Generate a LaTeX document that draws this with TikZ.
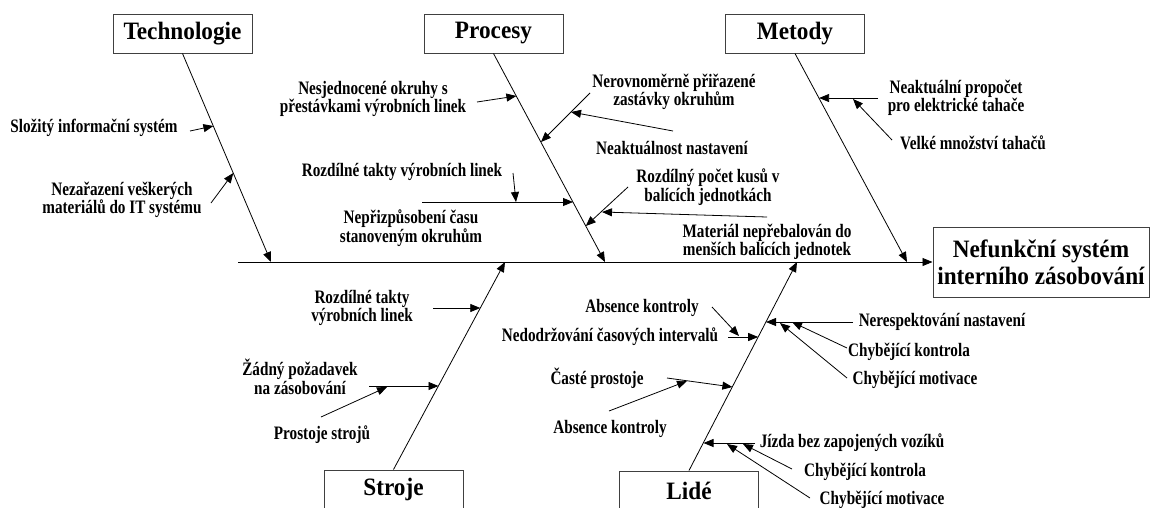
\documentclass[tikz,border=0pt]{standalone}
\usepackage{fontspec}
\setmainfont{Liberation Serif}
\newfontfamily\lblfont[FakeStretch=0.8]{Liberation Serif}
\newfontfamily\boxfont[FakeStretch=0.93]{Liberation Serif}
\usetikzlibrary{arrows.meta,calc}
\tikzset{
  catbox/.style={draw=black!75, line width=1pt, minimum width=139pt, minimum height=39pt, inner sep=0pt, font=\boxfont\bfseries\fontsize{25}{27}\selectfont},
  effbox/.style={draw=black!75, line width=1pt, minimum width=216pt, minimum height=70pt, inner sep=0pt, align=center, font=\boxfont\bfseries\fontsize{25}{27}\selectfont},
  lbl/.style={inner sep=0pt, align=center, font=\lblfont\bfseries\fontsize{19}{18.5}\selectfont},
  bone/.style={line width=0.8pt, -{Triangle[length=10pt,width=8pt]}},
  subarr/.style={line width=0.8pt, -{Triangle[length=10pt,width=8pt]}},
}
\begin{document}
\begin{tikzpicture}[x=1pt,y=-1pt]
\clip (0,0) rectangle (1159,507);
% category boxes
\node[catbox] (tech) at (182.5,33.5) {Technologie};
\node[catbox] (proc) at (493.5,33.5) {Procesy};
\node[catbox] (meto) at (795,33.5) {Metody};
\node[catbox] (stro) at (393.5,489.5) {Stroje};
\node[catbox] (lide) at (689,490.5) {Lidé};
\node[effbox] (eff) at (1041,262) {Nefunkční systém\\interního zásobování};
% spine
\coordinate (s0) at (238,262);
\coordinate (sT) at (271,262);
\coordinate (sS) at (505,262);
\coordinate (sP) at (605,262);
\coordinate (sL) at (797,262);
\coordinate (sM) at (907,262);
\draw[bone] (s0) -- (eff.west);
\draw[bone] (tech.south) -- (sT);
\draw[bone] (proc.south) -- (sP);
\draw[bone] (meto.south) -- (sM);
\draw[bone] (stro.north) -- (sS);
\draw[bone] (lide.north) -- (sL);
% Technologie
\node[lbl] (t1) at (94,128) {Složitý informační systém};
\node[lbl] (t2) at (122,200) {Nezařazení veškerých\\materiálů do IT systému};
\coordinate (t1a) at (190,131); \coordinate (t1b) at (213.4,126);
\coordinate (t2a) at (211,203); \coordinate (t2b) at (233.3,173);
\draw[subarr] (t1a) -- (t1b);
\draw[subarr] (t2a) -- (t2b);
% Procesy
\node[lbl] (p1) at (373,99) {Nesjednocené okruhy s\\přestávkami výrobních linek};
\node[lbl] (p2) at (674,92) {Nerovnoměrně přiřazené\\zastávky okruhům};
\node[lbl] (p3) at (672,148) {Neaktuálnost nastavení};
\node[lbl] (p4) at (402,172) {Rozdílné takty výrobních linek};
\node[lbl] (p5) at (411,228) {Nepřizpůsobení času\\stanoveným okruhům};
\node[lbl] (p6) at (708,187) {Rozdílný počet kusů v\\balících jednotkách};
\node[lbl] (p7) at (767,242) {Materiál nepřebalován do\\menších balících jednotek};
\coordinate (p1a) at (477,102); \coordinate (p1b) at (516.4,96);
\coordinate (p2a) at (590,93); \coordinate (p2b) at (541,142);
\coordinate (p3a) at (673,131); \coordinate (p3b) at (571,112);
\coordinate (p5a) at (422,202); \coordinate (p5b) at (573,202);
\coordinate (p4a) at (513,173); \coordinate (p4b) at (516,202);
\coordinate (p6a) at (628,187); \coordinate (p6b) at (585.8,226);
\coordinate (p7a) at (767,217); \coordinate (p7b) at (602,212);
\draw[subarr] (p1a) -- (p1b);
\draw[subarr] (p2a) -- (p2b);
\draw[subarr] (p3a) -- (p3b);
\draw[subarr] (p5a) -- (p5b);
\draw[subarr] (p4a) -- (p4b);
\draw[subarr] (p6a) -- (p6b);
\draw[subarr] (p7a) -- (p7b);
% Metody
\node[lbl] (m1) at (956,98) {Neaktuální propočet\\pro elektrické tahače};
\node[lbl] (m2) at (973,143) {Velké množství tahačů};
\coordinate (m1a) at (878,98); \coordinate (m1b) at (819.1,98);
\coordinate (m2a) at (892,140); \coordinate (m2b) at (853,99);
\draw[subarr] (m1a) -- (m1b);
\draw[subarr] (m2a) -- (m2b);
% Stroje
\node[lbl] (r1) at (362,308) {Rozdílné takty\\výrobních linek};
\node[lbl] (r2) at (300,377) {Žádný požadavek\\na zásobování};
\node[lbl] (r3) at (322,435) {Prostoje strojů};
\coordinate (r1a) at (433,308); \coordinate (r1b) at (480.3,308);
\coordinate (r2a) at (369,386); \coordinate (r2b) at (438.5,386);
\coordinate (r3a) at (321,417); \coordinate (r3b) at (387,387);
\draw[subarr] (r1a) -- (r1b);
\draw[subarr] (r2a) -- (r2b);
\draw[subarr] (r3a) -- (r3b);
% Lidé
\node[lbl] (l1) at (642,308) {Absence kontroly};
\node[lbl] (l2) at (610,337) {Nedodržování časových intervalů};
\node[lbl] (l3) at (597,378) {Časté prostoje};
\node[lbl] (l4) at (610,429) {Absence kontroly};
\node[lbl] (l5) at (852,443) {Jízda bez zapojených vozíků};
\node[lbl] (l6) at (865,472) {Chybějící kontrola};
\node[lbl] (l7) at (882,500) {Chybějící motivace};
\node[lbl] (l8) at (942,322) {Nerespektování nastavení};
\node[lbl] (l9) at (909,352) {Chybějící kontrola};
\node[lbl] (l10) at (915,380) {Chybějící motivace};
\coordinate (l1a) at (712,307); \coordinate (l1b) at (739,336);
\coordinate (l2a) at (728,337); \coordinate (l2b) at (758.2,337);
\coordinate (l3a) at (667,378); \coordinate (l3b) at (732.4,387);
\coordinate (l4a) at (609,411); \coordinate (l4b) at (687,381);
\coordinate (l5a) at (755,443); \coordinate (l5b) at (703.5,443);
\coordinate (l6a) at (792,469); \coordinate (l6b) at (743,444);
\coordinate (l7a) at (810,498); \coordinate (l7b) at (727,444);
\coordinate (l8a) at (853,322); \coordinate (l8b) at (766,322);
\coordinate (l9a) at (847,348); \coordinate (l9b) at (792,322);
\coordinate (l10a) at (847,378); \coordinate (l10b) at (780,323);
\draw[subarr] (l1a) -- (l1b);
\draw[subarr] (l2a) -- (l2b);
\draw[subarr] (l3a) -- (l3b);
\draw[subarr] (l4a) -- (l4b);
\draw[subarr] (l5a) -- (l5b);
\draw[subarr] (l6a) -- (l6b);
\draw[subarr] (l7a) -- (l7b);
\draw[subarr] (l8a) -- (l8b);
\draw[subarr] (l9a) -- (l9b);
\draw[subarr] (l10a) -- (l10b);
\end{tikzpicture}
\end{document}
